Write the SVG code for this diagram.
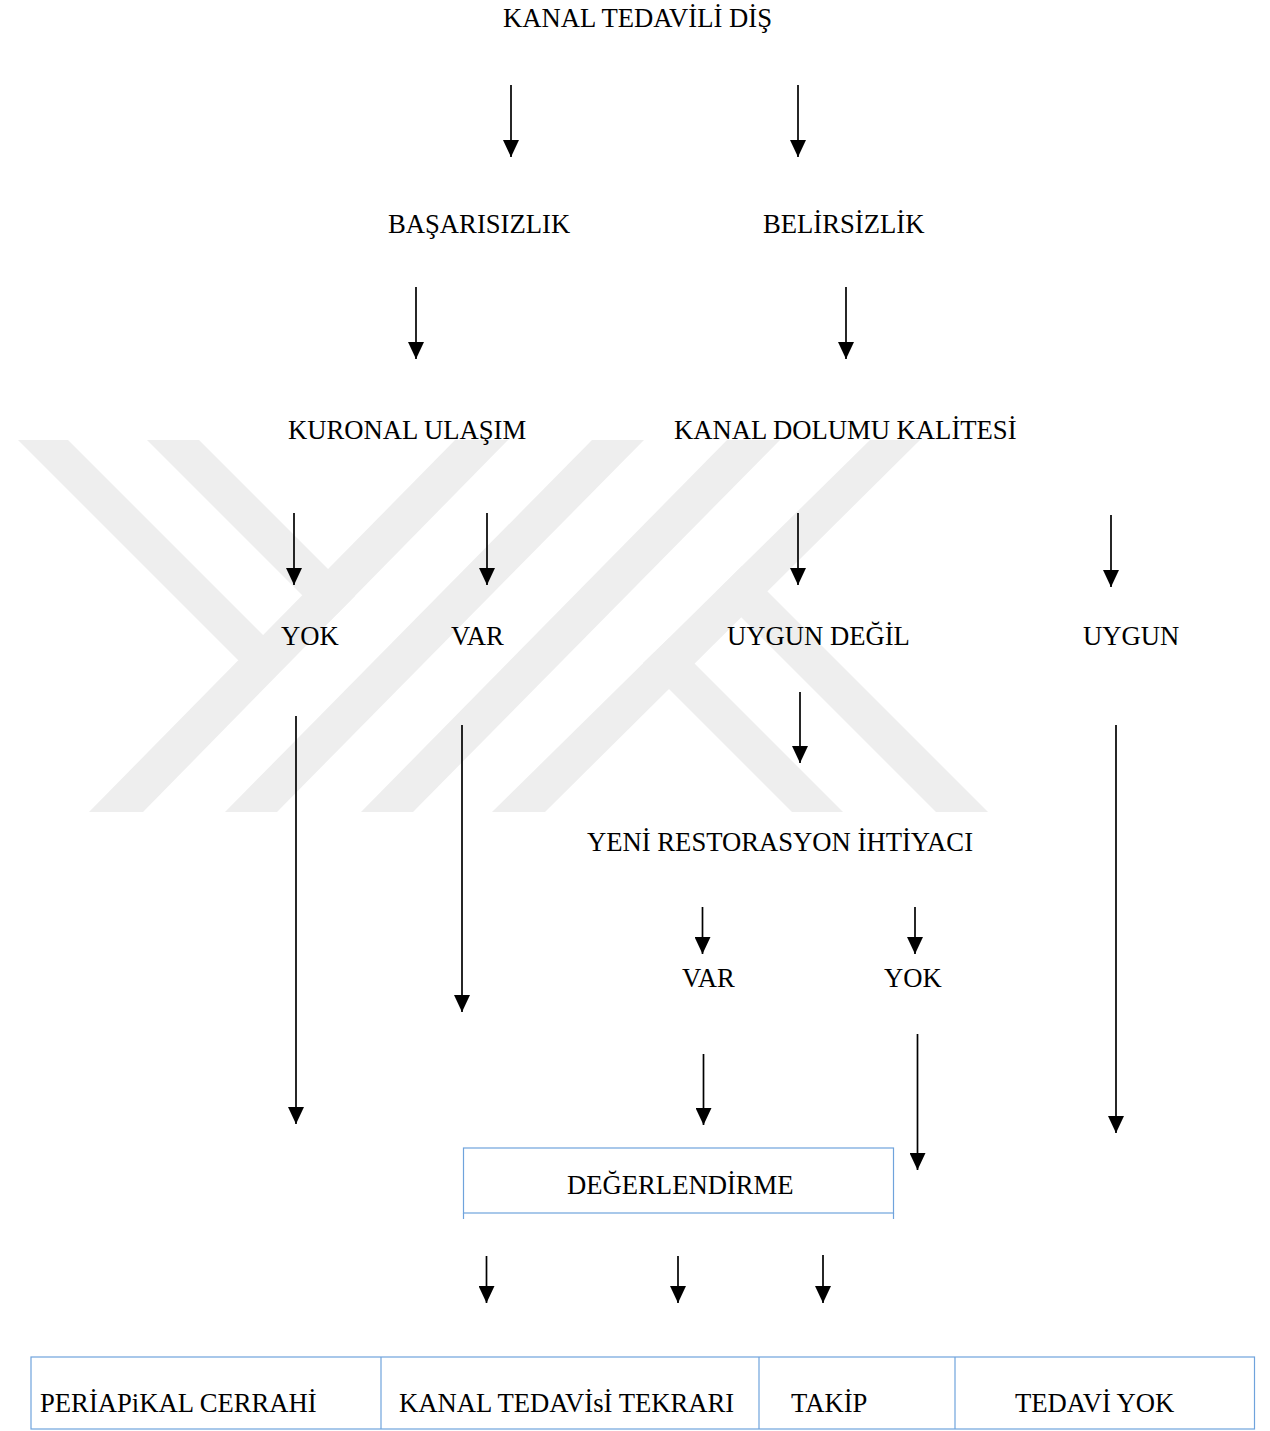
<svg xmlns="http://www.w3.org/2000/svg" width="1270" height="1431" viewBox="0 0 1270 1431">
<defs>
<style>
.t{font-family:"Liberation Serif","Times New Roman",serif;font-size:26.67px;fill:#000}
.wm{fill:#eeeeee}
.c{stroke:#000;stroke-width:1.7;fill:none;marker-end:url(#ah)}
.bx{fill:none;stroke:#6fa3dc;stroke-width:1.2}
</style>
<marker id="ah" viewBox="0 0 17 16" markerWidth="17" markerHeight="16" refX="17" refY="8" orient="auto" markerUnits="userSpaceOnUse">
<path d="M0,0 L17,8 L0,16 z" fill="#000"/>
</marker>
</defs>
<rect width="1270" height="1431" fill="#fff"/>
<g id="watermark">
<polygon class="wm" points="18,440 68,440 290,662 238,660"/>
<polygon class="wm" points="147,440 199,440 355,596 329,622"/>
<polygon class="wm" points="455,440 508,440 143,812 89,812"/>
<polygon class="wm" points="592,440 644,440 277,812 225,812"/>
<polygon class="wm" points="727,440 780,440 413,812 361,812"/>
<polygon class="wm" points="870,440 920,440 545,812 492,812"/>
<polygon class="wm" points="643,663 669,638 843,812 792,812"/>
<polygon class="wm" points="716,592 742,566 988,812 936,812"/>
</g>
<g id="n-kanal-tedavili-dis"><text class="t" x="503" y="27">KANAL TEDAVİLİ DİŞ</text></g>
<g id="n-basarisizlik"><text class="t" x="388" y="233">BAŞARISIZLIK</text></g>
<g id="n-belirsizlik"><text class="t" x="763" y="233">BELİRSİZLİK</text></g>
<g id="n-kuronal"><text class="t" x="288" y="439">KURONAL ULAŞIM</text></g>
<g id="n-kanal-dolumu"><text class="t" x="674" y="439">KANAL DOLUMU KALİTESİ</text></g>
<g id="n-yok1"><text class="t" x="281" y="645">YOK</text></g>
<g id="n-var1"><text class="t" x="451" y="645">VAR</text></g>
<g id="n-uygun-degil"><text class="t" x="727" y="645">UYGUN DEĞİL</text></g>
<g id="n-uygun"><text class="t" x="1083" y="645">UYGUN</text></g>
<g id="n-yeni-restorasyon"><text class="t" x="587" y="851">YENİ RESTORASYON İHTİYACI</text></g>
<g id="n-var2"><text class="t" x="682" y="987">VAR</text></g>
<g id="n-yok2"><text class="t" x="884" y="987">YOK</text></g>
<g id="n-degerlendirme">
<rect class="bx" x="463.5" y="1148" width="430" height="65"/>
<line class="bx" x1="463.5" y1="1213" x2="463.5" y2="1219"/>
<line class="bx" x1="893.5" y1="1213" x2="893.5" y2="1219"/>
<text class="t" x="567" y="1194">DEĞERLENDİRME</text>
</g>
<g id="n-sonuclar">
<rect class="bx" x="31" y="1357" width="1223.5" height="72" stroke="#5b9bd5"/>
<line class="bx" x1="381" y1="1357" x2="381" y2="1429"/>
<line class="bx" x1="759" y1="1357" x2="759" y2="1429"/>
<line class="bx" x1="955" y1="1357" x2="955" y2="1429"/>
<text class="t" x="40" y="1412">PERİAPiKAL CERRAHİ</text>
<text class="t" x="399" y="1412">KANAL TEDAVİsİ TEKRARI</text>
<text class="t" x="791" y="1412">TAKİP</text>
<text class="t" x="1015" y="1412">TEDAVİ YOK</text>
</g>
<g id="connectors">
<line class="c" x1="511" y1="85" x2="511" y2="157"/>
<line class="c" x1="798" y1="85" x2="798" y2="157"/>
<line class="c" x1="416" y1="287" x2="416" y2="359"/>
<line class="c" x1="846" y1="287" x2="846" y2="359"/>
<line class="c" x1="294" y1="513" x2="294" y2="585"/>
<line class="c" x1="487" y1="513" x2="487" y2="585"/>
<line class="c" x1="798" y1="513" x2="798" y2="585"/>
<line class="c" x1="1111" y1="515" x2="1111" y2="587"/>
<line class="c" x1="296" y1="716" x2="296" y2="1124"/>
<line class="c" x1="462" y1="725" x2="462" y2="1012"/>
<line class="c" x1="800" y1="692" x2="800" y2="763"/>
<line class="c" x1="1116" y1="725" x2="1116" y2="1133"/>
<line class="c" x1="702.5" y1="907" x2="702.5" y2="954"/>
<line class="c" x1="915" y1="907" x2="915" y2="954"/>
<line class="c" x1="703.5" y1="1054" x2="703.5" y2="1125"/>
<line class="c" x1="917.5" y1="1034" x2="917.5" y2="1170"/>
<line class="c" x1="486.5" y1="1256" x2="486.5" y2="1303"/>
<line class="c" x1="678" y1="1256" x2="678" y2="1303"/>
<line class="c" x1="823" y1="1255" x2="823" y2="1303"/>
</g>
</svg>
